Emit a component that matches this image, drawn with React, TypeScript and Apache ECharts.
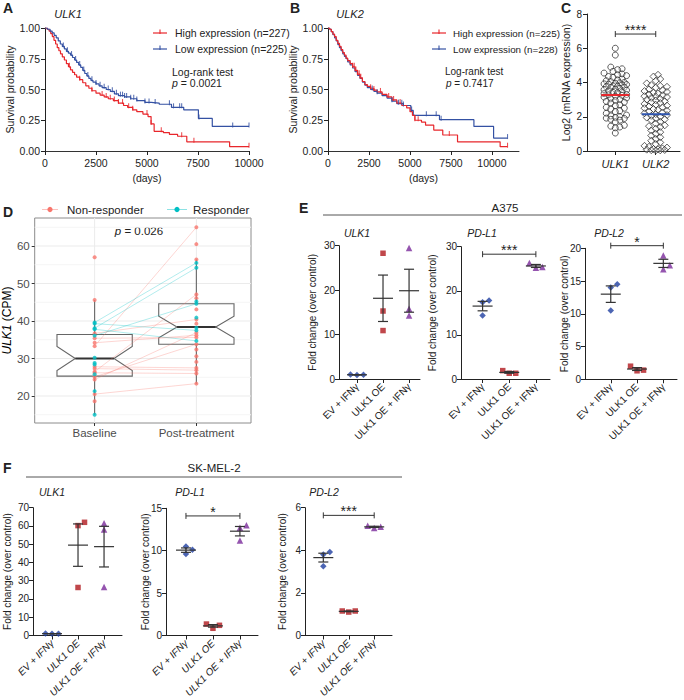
import React, { useEffect, useRef } from 'react';
import * as echarts from 'echarts';

const FONT = '"Liberation Sans", Arial, Helvetica, sans-serif';

// ---------------- Panel A (ULK1 survival) ----------------
const A_LOW_STEPS = [[0,1.0],[120,0.99],[250,0.975],[350,0.96],[450,0.94],[550,0.92],[650,0.895],[750,0.87],[850,0.85],[950,0.83],[1050,0.81],[1150,0.795],[1250,0.78],[1350,0.76],[1450,0.74],[1550,0.72],[1650,0.70],[1750,0.68],[1850,0.655],[1950,0.63],[2050,0.61],[2150,0.59],[2250,0.575],[2350,0.56],[2500,0.545],[2650,0.53],[2800,0.515],[3000,0.50],[3200,0.485],[3400,0.465],[3600,0.45],[3900,0.44],[4200,0.425],[4500,0.41],[4900,0.395],[5200,0.39],[5600,0.38],[6200,0.355],[6800,0.335],[7520,0.265],[8200,0.20],[10000,0.20]];
const A_HIGH_STEPS = [[0,1.0],[100,0.99],[200,0.975],[280,0.955],[360,0.93],[440,0.90],[520,0.87],[600,0.84],[680,0.815],[760,0.79],[850,0.765],[950,0.74],[1050,0.71],[1150,0.685],[1250,0.66],[1350,0.64],[1450,0.62],[1550,0.60],[1700,0.58],[1850,0.555],[2000,0.53],[2150,0.51],[2300,0.49],[2500,0.47],[2700,0.455],[2900,0.44],[3100,0.425],[3350,0.41],[3600,0.39],[3850,0.37],[4050,0.355],[4300,0.335],[4500,0.32],[4800,0.30],[5050,0.28],[5200,0.22],[5350,0.16],[5800,0.15],[6100,0.135],[6500,0.12],[6950,0.075],[9050,0.035],[10000,0.035]];
const A_LOW_CENSOR = [900,1100,1300,1500,1700,1900,2100,2300,2500,2700,2900,3100,3300,3500,3700,3800,3900,4000,4200,4350,4500,4900,5100,5400,6100,6300,6600,6700,7550,9200,10000];
const A_HIGH_CENSOR = [1200,1700,2300,2800,3000,3200,3400,3600,3800,4100,4300,5000,5200,5700,6700,7300,10000];

// ---------------- Panel B (ULK2 survival) ----------------
const B_HIGH_STEPS = [[0,1.0],[100,0.99],[200,0.97],[300,0.95],[400,0.93],[500,0.90],[600,0.875],[700,0.85],[800,0.825],[900,0.80],[1000,0.78],[1100,0.755],[1200,0.735],[1350,0.71],[1500,0.685],[1650,0.655],[1800,0.625],[1950,0.595],[2100,0.565],[2250,0.54],[2400,0.525],[2600,0.51],[2800,0.495],[3000,0.48],[3300,0.46],[3600,0.44],[3900,0.415],[4200,0.39],[4500,0.37],[4800,0.35],[5000,0.32],[5150,0.29],[5300,0.25],[5700,0.235],[5950,0.21],[6450,0.17],[7000,0.13],[7900,0.075],[10500,0.035],[10950,0.035]];
const B_LOW_STEPS = [[0,1.0],[100,0.99],[200,0.97],[300,0.945],[400,0.92],[500,0.895],[600,0.865],[700,0.84],[800,0.815],[900,0.79],[1000,0.77],[1100,0.75],[1200,0.725],[1350,0.70],[1500,0.675],[1650,0.645],[1800,0.615],[1950,0.59],[2100,0.56],[2250,0.535],[2400,0.515],[2600,0.50],[2800,0.485],[3000,0.47],[3300,0.45],[3600,0.43],[3900,0.405],[4200,0.385],[4600,0.37],[5050,0.33],[5200,0.29],[6800,0.255],[8900,0.20],[10100,0.105],[10950,0.105]];
const B_HIGH_CENSOR = [1500,1600,1700,1800,1900,2000,2600,2800,3200,3700,4000,4400,5300,5500,7400,10950];
const B_LOW_CENSOR = [2700,3000,3900,4300,4500,4600,5100,6000,6600,6900,10950];
const KM_X_TICKS = [0, 2500, 5000, 7500, 10000];

// ---------------- Panel C (mRNA expression) ----------------
const C_CATS = ['ULK1', 'ULK2'];
const C_ULK1 = [6.0,5.6,4.9,4.8,4.75,4.65,4.55,4.5,4.45,4.4,4.35,4.3,4.2,4.15,4.1,4.05,4.0,3.98,3.95,3.92,3.9,3.88,3.85,3.8,3.78,3.75,3.72,3.7,3.65,3.6,3.58,3.55,3.5,3.45,3.42,3.4,3.35,3.3,3.28,3.25,3.2,3.15,3.1,3.05,3.0,2.95,2.9,2.85,2.8,2.7,2.65,2.55,2.5,2.45,2.35,2.3,2.2,2.1,2.05,2.0,1.95,1.92,1.9,1.85,1.8,1.7,1.5,1.45,1.4,1.35,1.05];
const C_ULK2 = [4.45,4.35,4.2,4.1,3.95,3.85,3.8,3.75,3.7,3.6,3.55,3.5,3.45,3.4,3.35,3.3,3.25,3.2,3.18,3.15,3.1,3.05,3.0,2.95,2.9,2.85,2.8,2.75,2.7,2.65,2.6,2.55,2.5,2.45,2.4,2.35,2.3,2.25,2.2,2.15,2.1,2.05,2.0,1.95,1.9,1.85,1.8,1.7,1.6,1.5,1.45,1.4,1.3,1.2,1.1,1.0,0.9,0.8,0.7,0.6,0.5,0.4,0.3,0.25,0.2,0.15,0.12,0.1,0.08,0.06,0.05,0.04,0.03];

// ---------------- Panel D (CPM, paired) ----------------
const D_CATS = ['Baseline', 'Post-treatment'];
const D_NR_PAIRS = [[33.3,65.0],[36.7,40.4],[35.4,35.6],[34.2,36.2],[27.8,27.5],[27.3,26.9],[26.2,26.0],[20.5,23.3],[25.1,33.8],[24.4,36.9],[26.5,47.1]];
const D_NR_BASE_ONLY = [57.0,45.6,18.6];
const D_NR_POST_ONLY = [60.5,56.4,46.1,43.1,39.3,32.4,30.6,29.1];
const D_R_PAIRS = [[39.6,55.5],[38.1,54.2],[36.1,44.6],[39.3,37.5],[37.8,34.7]];
const D_R_BASE_ONLY = [30.2,28.8,28.4,25.8,21.3,15.0];
const D_R_POST_ONLY = [45.2,40.9,38.2];
// box stats: [lower whisker, Q1, median, Q3, upper whisker]
const D_BOX_BASELINE = [15.0, 25.3, 30.0, 36.4, 45.6];
const D_BOX_POST = [23.3, 33.8, 38.4, 44.6, 56.4];
const D_NOTCH_BASELINE = [26.8, 33.2];
const D_NOTCH_POST = [35.5, 41.3];
const D_Y_MAJOR = [20, 30, 40, 50, 60];
const D_Y_MINOR = [15, 25, 35, 45, 55, 65];

// ---------------- Panels E / F (fold change) ----------------
const FC_CATS = ['EV + IFNγ', 'ULK1 OE', 'ULK1 OE + IFNγ'];
const E_ULK1 = [[0.9, 0.95, 1.0], [28.3, 15.3, 10.9], [29.5, 15.8, 14.3]];
const E_PDL1 = [[17.8, 17.4, 14.4], [1.9, 1.3, 1.3], [26.3, 25.2, 25.4]];
const E_PDL2 = [[14.5, 14.0, 10.5], [2.0, 1.3, 1.4], [18.9, 17.4, 16.8]];
const F_ULK1 = [[0.95, 1.0, 1.05], [62.0, 60.2, 26.3], [61.5, 58.0, 26.5]];
const F_PDL1 = [[10.5, 10.1, 9.6], [1.35, 1.2, 0.85], [13.0, 12.7, 11.2]];
const F_PDL2 = [[3.92, 3.8, 3.25], [1.1, 1.15, 1.15], [5.15, 5.05, 5.1]];

// ---------------- layout (pixels) ----------------
const GRIDS = [
  { left: 45, top: 28, width: 204, height: 123 },      // A
  { left: 328, top: 28, width: 191, height: 123 },     // B
  { left: 587, top: 14, width: 93, height: 137 },      // C
  { left: 32, top: 218, width: 219, height: 205 },     // D
  { left: 339, top: 245.7, width: 81, height: 133.3 }, // E1
  { left: 461, top: 246.7, width: 89, height: 132.3 }, // E2
  { left: 585, top: 248.3, width: 92, height: 131 },   // E3
  { left: 33, top: 507.7, width: 89, height: 131.3 },  // F1
  { left: 166, top: 508.3, width: 92, height: 131 },   // F2
  { left: 305, top: 507.7, width: 87, height: 131.3 }, // F3
];

const RED_KM = '#E8262B';
const BLUE_KM = '#3451A3';
const NR_COL = '#F8766D';
const R_COL = '#00BFC4';
const FC_COLORS = ['#1F3FA0', '#B0191E', '#7B2A9B'];
const FC_SYMBOLS = ['diamond', 'rect', 'triangle'];
const FC_SIZES = [6.5, 5.5, 6.5];
const INK = '#222';

function kmAt(steps: number[][], t: number) {
  let s = steps[0][1];
  for (const [tt, ss] of steps) { if (tt <= t) s = ss; else break; }
  return s;
}
function mean(a: number[]) { return a.reduce((s, v) => s + v, 0) / a.length; }
function sem(a: number[]) {
  const m = mean(a);
  const v = a.reduce((s, x) => s + (x - m) * (x - m), 0) / (a.length - 1);
  return Math.sqrt(v) / Math.sqrt(a.length);
}
// beeswarm layout: returns horizontal offsets (in x data units)
function swarm(vals: number[], pxY: number, pxX: number, d: number, maxPx: number) {
  const placed: { x: number; y: number }[] = [];
  const order = vals.map((_, i) => i).sort((a, b) => vals[a] - vals[b]);
  const offs = new Array(vals.length).fill(0);
  for (const i of order) {
    const y = vals[i] * pxY;
    const cands = [0];
    for (let k = 1; k <= 40; k++) cands.push(k * d * 0.5, -k * d * 0.5);
    let bestX = 0, bestScore = -1;
    for (const c of cands) {
      if (Math.abs(c) > maxPx) continue;
      let minD = Infinity;
      for (const p of placed) { const dd = Math.hypot(p.x - c, p.y - y); if (dd < minD) minD = dd; }
      if (minD >= d) { bestX = c; bestScore = Infinity; break; }
      if (minD > bestScore) { bestScore = minD; bestX = c; }
    }
    placed.push({ x: bestX, y });
    offs[i] = bestX / pxX;
  }
  return offs;
}

function txt(x: number, y: number, text: string, o: any = {}) {
  const align = o.align || 'left';
  const va = o.va || 'middle';
  return {
    type: 'text', x, y, silent: true, rotation: o.rotation || 0,
    style: {
      text, fill: o.color || INK, fontSize: o.size || 11, fontFamily: FONT,
      fontWeight: o.weight || 'normal', fontStyle: o.italic ? 'italic' : 'normal',
      align, textAlign: align, verticalAlign: va, textVerticalAlign: va,
      rich: o.rich,
    },
  };
}
function seg(x1: number, y1: number, x2: number, y2: number, color: string, w = 1) {
  return { type: 'line', silent: true, shape: { x1, y1, x2, y2 }, style: { stroke: color, lineWidth: w } };
}

const App: React.FC = () => {
  const ref = useRef<HTMLDivElement>(null);
  useEffect(() => {
    if (!ref.current) return;
    const chart = echarts.init(ref.current, undefined, { renderer: 'svg' });

    const axisLine = { show: true, lineStyle: { color: INK, width: 1 } };
    const axisTick = { show: true, inside: false, length: 4, lineStyle: { color: INK, width: 1 } };
    const lbl = (size = 10.5) => ({ color: INK, fontSize: size, fontFamily: FONT });

    const xAxis: any[] = [];
    const yAxis: any[] = [];
    const series: any[] = [];

    // ---- A & B axes ----
    [0, 1].forEach((g) => {
      xAxis.push({
        gridIndex: g, type: 'value', min: 0, max: g === 0 ? 10000 : 11650,
        axisLine: { show: true, lineStyle: { color: '#333', width: 1 } },
        axisTick: { ...axisTick, customValues: KM_X_TICKS },
        axisLabel: { ...lbl(), margin: 6, customValues: KM_X_TICKS, formatter: (v: number) => String(v) },
        splitLine: { show: false },
        name: '(days)', nameLocation: 'middle', nameGap: 21,
        nameTextStyle: { ...lbl(), fontSize: 10.5 },
      });
      yAxis.push({
        gridIndex: g, type: 'value', min: 0, max: 1, interval: 0.25,
        axisLine, axisTick, splitLine: { show: false },
        axisLabel: { ...lbl(), margin: 5, formatter: (v: number) => v.toFixed(2) },
        name: 'Survival probability', nameLocation: 'middle', nameGap: g === 0 ? 29 : 27,
        nameTextStyle: { ...lbl(), fontSize: 10.5 },
      });
    });
    const km = (ax: number, steps: number[][], censor: number[], color: string) => {
      series.push({ type: 'line', xAxisIndex: ax, yAxisIndex: ax, data: steps, step: 'end', symbol: 'none',
        lineStyle: { color, width: 1.2 }, silent: true, z: 2 });
      series.push({ type: 'scatter', xAxisIndex: ax, yAxisIndex: ax, data: censor.map((t) => [t, kmAt(steps, t)]),
        symbol: 'rect', symbolSize: [1.1, 5], symbolOffset: [0, -1.5], itemStyle: { color }, silent: true, z: 3 });
    };
    km(0, A_HIGH_STEPS, A_HIGH_CENSOR, RED_KM);
    km(0, A_LOW_STEPS, A_LOW_CENSOR, BLUE_KM);
    km(1, B_LOW_STEPS, B_LOW_CENSOR, BLUE_KM);
    km(1, B_HIGH_STEPS, B_HIGH_CENSOR, RED_KM);

    // ---- C ----
    const gC = GRIDS[2];
    const cXMin = 0.3, cXMax = 2.6, cYMax = 8;
    xAxis.push({
      gridIndex: 2, type: 'value', min: cXMin, max: cXMax, axisLine,
      axisTick: { ...axisTick, customValues: [1, 2] },
      axisLabel: { ...lbl(11), fontStyle: 'italic', margin: 7, customValues: [1, 2], formatter: (v: number) => C_CATS[Math.round(v) - 1] },
      splitLine: { show: false },
    });
    yAxis.push({
      gridIndex: 2, type: 'value', min: 0, max: cYMax, interval: 2, axisLine, axisTick, splitLine: { show: false },
      axisLabel: { ...lbl(10), margin: 5 },
      name: 'Log2 (mRNA expression)', nameLocation: 'middle', nameGap: 16, nameMoveOverlap: false,
      nameTextStyle: { ...lbl(), fontSize: 10.5 },
    });
    const cPxY = gC.height / cYMax, cPxX = gC.width / (cXMax - cXMin);
    const off1 = swarm(C_ULK1, cPxY, cPxX, 4.5, 13);
    const off2 = swarm(C_ULK2, cPxY, cPxX, 4.5, 13);
    series.push({ type: 'scatter', xAxisIndex: 2, yAxisIndex: 2, data: C_ULK1.map((v, i) => [1 + off1[i], v]),
      symbol: 'circle', symbolSize: 6, itemStyle: { color: 'rgba(255,255,255,0.35)', borderColor: '#222', borderWidth: 0.9 }, silent: true, z: 2 });
    series.push({ type: 'scatter', xAxisIndex: 2, yAxisIndex: 2, data: C_ULK2.map((v, i) => [2 + off2[i], v]),
      symbol: 'diamond', symbolSize: 7, itemStyle: { color: 'rgba(255,255,255,0.35)', borderColor: '#222', borderWidth: 0.9 }, silent: true, z: 2 });
    const cMeanColors = [RED_KM, '#2E55B0'];
    series.push({ type: 'custom', xAxisIndex: 2, yAxisIndex: 2, z: 5, silent: true, clip: false,
      data: [[1, mean(C_ULK1)], [2, mean(C_ULK2)]],
      renderItem: (params: any, api: any) => {
        const c = api.coord([api.value(0), api.value(1)]);
        return { type: 'line', shape: { x1: c[0] - 14, y1: c[1], x2: c[0] + 14, y2: c[1] },
          style: { stroke: cMeanColors[params.dataIndex], lineWidth: 2 } };
      } });

    const bracket = (gi: number, x1: number, x2: number, y: number, stars: string) => {
      series.push({ type: 'custom', xAxisIndex: gi, yAxisIndex: gi, z: 6, silent: true, clip: false,
        data: [[x1, x2, y]],
        renderItem: (_p: any, api: any) => {
          const a = api.coord([api.value(0), api.value(2)]);
          const b = api.coord([api.value(1), api.value(2)]);
          const st = { stroke: '#333', lineWidth: 1 };
          return { type: 'group', children: [
            { type: 'line', shape: { x1: a[0], y1: a[1], x2: b[0], y2: b[1] }, style: st },
            { type: 'line', shape: { x1: a[0], y1: a[1] - 3, x2: a[0], y2: a[1] + 3 }, style: st },
            { type: 'line', shape: { x1: b[0], y1: b[1] - 3, x2: b[0], y2: b[1] + 3 }, style: st },
            { type: 'text', x: (a[0] + b[0]) / 2, y: a[1] - 4,
              style: { text: stars, fill: INK, fontSize: 14, fontFamily: FONT, align: 'center', textAlign: 'center', verticalAlign: 'middle', textVerticalAlign: 'middle' } },
          ] };
        } });
    };
    bracket(2, 1, 2, 6.83, '****');

    // ---- D ----
    const dXMin = 0.411, dXMax = 2.537, dYMin = 12.8, dYMax = 67.47;
    xAxis.push({
      gridIndex: 3, type: 'value', min: dXMin, max: dXMax, axisLine: { show: false },
      axisTick: { show: true, length: 3, lineStyle: { color: '#333' }, customValues: [1, 2] },
      axisLabel: { color: '#4d4d4d', fontSize: 11.5, fontFamily: FONT, margin: 4, customValues: [1, 2], formatter: (v: number) => D_CATS[Math.round(v) - 1] },
      splitLine: { show: false },
    });
    yAxis.push({
      gridIndex: 3, type: 'value', min: dYMin, max: dYMax, axisLine: { show: false },
      axisTick: { show: true, length: 3, lineStyle: { color: '#333' }, customValues: D_Y_MAJOR },
      axisLabel: { color: '#4d4d4d', fontSize: 11.5, fontFamily: FONT, margin: 5, customValues: D_Y_MAJOR },
      splitLine: { show: false },
      name: '{i|ULK1} (CPM)', nameLocation: 'middle', nameGap: 20,
      nameTextStyle: { color: '#000', fontSize: 12, fontFamily: FONT, rich: { i: { fontStyle: 'italic', fontSize: 12, fontFamily: FONT, color: '#000' } } },
    });
    // grid lines
    series.push({ type: 'custom', xAxisIndex: 3, yAxisIndex: 3, z: 0, silent: true,
      data: [...D_Y_MINOR.map((v) => [0, v, 0]), ...D_Y_MAJOR.map((v) => [0, v, 1]), [1, 0, 2], [2, 0, 2]],
      renderItem: (params: any, api: any) => {
        const cs = params.coordSys;
        const kind = api.value(2);
        if (kind === 2) {
          const p = api.coord([api.value(0), dYMin]);
          return { type: 'line', shape: { x1: p[0], y1: cs.y, x2: p[0], y2: cs.y + cs.height }, style: { stroke: '#ebebeb', lineWidth: 1 } };
        }
        const p = api.coord([dXMin, api.value(1)]);
        return { type: 'line', shape: { x1: cs.x, y1: p[1], x2: cs.x + cs.width, y2: p[1] },
          style: { stroke: kind === 1 ? '#ebebeb' : '#f5f5f5', lineWidth: 1 } };
      } });
    // notched boxes
    const boxData = [
      [1, D_BOX_BASELINE[0], D_BOX_BASELINE[1], D_NOTCH_BASELINE[0], D_BOX_BASELINE[2], D_NOTCH_BASELINE[1], D_BOX_BASELINE[3], D_BOX_BASELINE[4]],
      [2, D_BOX_POST[0], D_BOX_POST[1], D_NOTCH_POST[0], D_BOX_POST[2], D_NOTCH_POST[1], D_BOX_POST[3], D_BOX_POST[4]],
    ];
    series.push({ type: 'custom', xAxisIndex: 3, yAxisIndex: 3, z: 1, silent: true, data: boxData,
      renderItem: (_p: any, api: any) => {
        const x = api.value(0);
        const lo = api.value(1), q1 = api.value(2), nl = api.value(3), md = api.value(4), nh = api.value(5), q3 = api.value(6), hi = api.value(7);
        const hw = 0.37, nw = 0.19;
        const P = (dx: number, v: number) => api.coord([x + dx, v]);
        const st = { stroke: '#666', lineWidth: 1.1, fill: 'none' };
        return { type: 'group', children: [
          { type: 'line', shape: { x1: P(0, q3)[0], y1: P(0, q3)[1], x2: P(0, hi)[0], y2: P(0, hi)[1] }, style: st },
          { type: 'line', shape: { x1: P(0, q1)[0], y1: P(0, q1)[1], x2: P(0, lo)[0], y2: P(0, lo)[1] }, style: st },
          { type: 'polygon', shape: { points: [P(-hw, q3), P(hw, q3), P(hw, nh), P(nw, md), P(hw, nl), P(hw, q1), P(-hw, q1), P(-hw, nl), P(-nw, md), P(-hw, nh)] },
            style: { stroke: '#666', lineWidth: 1.1, fill: '#fff' } },
          { type: 'line', shape: { x1: P(-nw, md)[0], y1: P(-nw, md)[1], x2: P(nw, md)[0], y2: P(nw, md)[1] }, style: { stroke: '#333', lineWidth: 2 } },
        ] };
      } });
    const pairLines = (pairs: number[][], color: string) => {
      series.push({ type: 'custom', xAxisIndex: 3, yAxisIndex: 3, z: 2, silent: true, data: pairs,
        renderItem: (_p: any, api: any) => {
          const a = api.coord([1, api.value(0)]);
          const b = api.coord([2, api.value(1)]);
          return { type: 'line', shape: { x1: a[0], y1: a[1], x2: b[0], y2: b[1] }, style: { stroke: color, lineWidth: 1, opacity: 0.3 } };
        } });
    };
    pairLines(D_NR_PAIRS, NR_COL);
    pairLines(D_R_PAIRS, R_COL);
    const dPts = (base: number[], post: number[], color: string) => {
      series.push({ type: 'scatter', xAxisIndex: 3, yAxisIndex: 3, z: 3, silent: true,
        data: [...base.map((v) => [1, v]), ...post.map((v) => [2, v])],
        symbol: 'circle', symbolSize: 4, itemStyle: { color } });
    };
    dPts([...D_NR_PAIRS.map((p) => p[0]), ...D_NR_BASE_ONLY], [...D_NR_PAIRS.map((p) => p[1]), ...D_NR_POST_ONLY], NR_COL);
    dPts([...D_R_PAIRS.map((p) => p[0]), ...D_R_BASE_ONLY], [...D_R_PAIRS.map((p) => p[1]), ...D_R_POST_ONLY], R_COL);

    // ---- E / F ----
    const fcPanels = [
      { g: 4, data: E_ULK1, xMin: 0.31, xMax: 3.42, yMax: 30, int: 10, gap: 22, br: null as any, it: false },
      { g: 5, data: E_PDL1, xMin: 0.19, xMax: 3.53, yMax: 30, int: 10, gap: 24, br: [28.3, '***'], it: false },
      { g: 6, data: E_PDL2, xMin: 0.02, xMax: 3.52, yMax: 20, int: 5, gap: 16, br: [20.4, '*'], it: false },
      { g: 7, data: F_ULK1, xMin: 0.27, xMax: 3.69, yMax: 70, int: 10, gap: 21, br: null as any, it: true },
      { g: 8, data: F_PDL1, xMin: 0.26, xMax: 3.67, yMax: 15, int: 5, gap: 16, br: [14.1, '*'], it: true },
      { g: 9, data: F_PDL2, xMin: 0.28, xMax: 3.7, yMax: 6, int: 2, gap: 18, br: [5.64, '***'], it: true },
    ];
    fcPanels.forEach((p) => {
      const gr = GRIDS[p.g];
      xAxis.push({
        gridIndex: p.g, type: 'value', min: p.xMin, max: p.xMax, axisLine,
        axisTick: { ...axisTick, customValues: [1, 2, 3] },
        axisLabel: { ...lbl(10), fontStyle: p.it ? 'italic' : 'normal', rotate: 45, margin: 6, customValues: [1, 2, 3], formatter: (v: number) => FC_CATS[Math.round(v) - 1] },
        splitLine: { show: false },
      });
      yAxis.push({
        gridIndex: p.g, type: 'value', min: 0, max: p.yMax, interval: p.int, axisLine, axisTick, splitLine: { show: false },
        axisLabel: { ...lbl(10), margin: 4 },
        name: 'Fold change (over control)', nameLocation: 'middle', nameGap: p.gap, nameMoveOverlap: false, nameTextStyle: { ...lbl(10) },
      });
      const pxY = gr.height / p.yMax, pxX = gr.width / (p.xMax - p.xMin);
      p.data.forEach((vals, k) => {
        const offs = swarm(vals, pxY, pxX, 6.5, 9);
        series.push({ type: 'scatter', xAxisIndex: p.g, yAxisIndex: p.g, z: 2, silent: true,
          data: vals.map((v, i) => [k + 1 + offs[i], v]),
          symbol: FC_SYMBOLS[k], symbolSize: FC_SIZES[k], itemStyle: { color: FC_COLORS[k] } });
      });
      series.push({ type: 'custom', xAxisIndex: p.g, yAxisIndex: p.g, z: 4, silent: true, clip: false,
        data: p.data.map((vals, k) => { const m = mean(vals), s = sem(vals); return [k + 1, m, m - s, m + s]; }),
        renderItem: (_q: any, api: any) => {
          const c = api.coord([api.value(0), api.value(1)]);
          const l = api.coord([api.value(0), api.value(2)]);
          const h = api.coord([api.value(0), api.value(3)]);
          const st = { stroke: '#333', lineWidth: 1.2 };
          return { type: 'group', children: [
            { type: 'line', shape: { x1: c[0] - 10, y1: c[1], x2: c[0] + 10, y2: c[1] }, style: st },
            { type: 'line', shape: { x1: c[0], y1: l[1], x2: c[0], y2: h[1] }, style: st },
            { type: 'line', shape: { x1: c[0] - 5, y1: l[1], x2: c[0] + 5, y2: l[1] }, style: st },
            { type: 'line', shape: { x1: c[0] - 5, y1: h[1], x2: c[0] + 5, y2: h[1] }, style: st },
          ] };
        } });
      if (p.br) bracket(p.g, 1, 3, p.br[0], p.br[1]);
    });

    // ---- graphic annotations ----
    const pRich = (s: number) => ({ i: { fontStyle: 'italic', fontSize: s, fontFamily: FONT, fill: INK, color: INK } });
    const legendKey = (x: number, y: number, color: string) => [
      seg(x, y, x + 14, y, color, 1.2), seg(x + 7, y - 3.5, x + 7, y + 1, color, 1.1)];
    const g: any[] = [
      txt(3, 8, 'A', { size: 14, weight: 'bold' }),
      txt(68, 13.5, 'ULK1', { align: 'center', italic: true, size: 11 }),
      ...legendKey(153, 33, RED_KM), txt(175, 33, 'High expression (n=227)', { size: 10.5 }),
      ...legendKey(153, 49, BLUE_KM), txt(175, 49, 'Low expression (n=225)', { size: 10.5 }),
      txt(172, 71.5, 'Log-rank test', { size: 10.5 }),
      txt(172, 83, '{i|p} = 0.0021', { size: 10.5, rich: pRich(10.5) }),

      txt(290, 8, 'B', { size: 14, weight: 'bold' }),
      txt(350, 13.5, 'ULK2', { align: 'center', italic: true, size: 11 }),
      ...legendKey(432, 33, RED_KM), txt(453, 33, 'High expression (n=225)', { size: 9.8 }),
      ...legendKey(432, 49, BLUE_KM), txt(453, 49, 'Low expression (n=228)', { size: 9.8 }),
      txt(445, 71.5, 'Log-rank test', { size: 10 }),
      txt(446, 83, '{i|p} = 0.7417', { size: 10, rich: pRich(10) }),

      txt(561, 8, 'C', { size: 14, weight: 'bold' }),

      txt(3, 212, 'D', { size: 14, weight: 'bold' }),
      { type: 'line', silent: true, shape: { x1: 42, y1: 209.5, x2: 58, y2: 209.5 }, style: { stroke: NR_COL, lineWidth: 1, opacity: 0.45 } },
      { type: 'circle', silent: true, shape: { cx: 50, cy: 209.5, r: 2.6 }, style: { fill: NR_COL } },
      txt(67, 209.5, 'Non-responder', { size: 11.5 }),
      { type: 'line', silent: true, shape: { x1: 167, y1: 209.5, x2: 187, y2: 209.5 }, style: { stroke: R_COL, lineWidth: 1, opacity: 0.45 } },
      { type: 'circle', silent: true, shape: { cx: 177, cy: 209.5, r: 2.6 }, style: { fill: R_COL } },
      txt(193, 209.5, 'Responder', { size: 11.5 }),
      txt(139, 231, '{i|p} = 0.026', { size: 11.5, align: 'center', rich: pRich(11.5) }),

      txt(299, 208, 'E', { size: 14, weight: 'bold' }),
      txt(505, 207.5, 'A375', { size: 11.5, align: 'center' }),
      seg(323, 215, 682, 215, '#555', 1),
      txt(357, 233, 'ULK1', { align: 'center', italic: true, size: 10.5 }),
      txt(482, 233, 'PD-L1', { align: 'center', italic: true, size: 10.5 }),
      txt(609, 233, 'PD-L2', { align: 'center', italic: true, size: 10.5 }),

      txt(3, 468, 'F', { size: 14, weight: 'bold' }),
      txt(214, 468, 'SK-MEL-2', { size: 11.5, align: 'center' }),
      seg(26, 477, 402, 477, '#555', 1),
      txt(52, 492, 'ULK1', { align: 'center', italic: true, size: 10.5 }),
      txt(190, 492, 'PD-L1', { align: 'center', italic: true, size: 10.5 }),
      txt(324, 492, 'PD-L2', { align: 'center', italic: true, size: 10.5 }),
    ];

    const option: any = {
      animation: false,
      backgroundColor: '#fff',
      textStyle: { fontFamily: FONT },
      grid: GRIDS.map((gr, i) => ({
        ...gr, containLabel: false,
        show: i === 3, borderColor: '#8c8c8c', borderWidth: 1, backgroundColor: i === 3 ? '#fff' : 'transparent',
      })),
      xAxis, yAxis, series,
      graphic: { elements: g },
    };
    chart.setOption(option);
    return () => chart.dispose();
  }, []);
  return <div ref={ref} style={{ position: 'fixed', left: 0, top: 0, width: 684, height: 700, background: '#fff' }} />;
};

export default App;
